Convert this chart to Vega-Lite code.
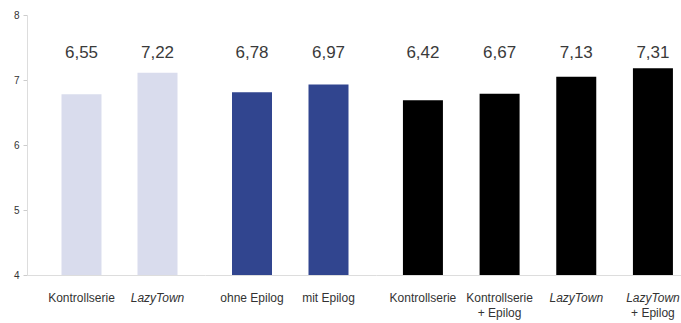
{
  "$schema": "https://vega.github.io/schema/vega-lite/v6.json",
  "padding": {"left": 13, "top": 10, "right": 0, "bottom": 3},
  "background": "white",
  "spacing": 0,
  "config": {
    "view": {"stroke": null},
    "concat": {"spacing": 0},
    "font": "Liberation Sans"
  },
  "data": {
    "values": [
      {"group": "A", "key": "A1", "value": 6.78, "label": "6,55", "line1": "Kontrollserie", "line2": ""},
      {"group": "A", "key": "A2", "value": 7.11, "label": "7,22", "line1": "LazyTown", "line2": ""},
      {"group": "B", "key": "B1", "value": 6.81, "label": "6,78", "line1": "ohne Epilog", "line2": ""},
      {"group": "B", "key": "B2", "value": 6.93, "label": "6,97", "line1": "mit Epilog", "line2": ""},
      {"group": "C", "key": "C1", "value": 6.69, "label": "6,42", "line1": "Kontrollserie", "line2": ""},
      {"group": "C", "key": "C2", "value": 6.79, "label": "6,67", "line1": "Kontrollserie", "line2": "+ Epilog"},
      {"group": "C", "key": "C3", "value": 7.05, "label": "7,13", "line1": "LazyTown", "line2": ""},
      {"group": "C", "key": "C4", "value": 7.18, "label": "7,31", "line1": "LazyTown", "line2": "+ Epilog"}
    ]
  },
  "hconcat": [
    {
      "width": 178, "height": 260,
      "transform": [{"filter": "datum.group === 'A'"}],
      "encoding": {
        "x": {"field": "key", "type": "nominal", "sort": null,
              "scale": {"paddingInner": 0.5, "paddingOuter": 0.421, "align": 0.5547, "round": false},
              "axis": {"labels": false, "ticks": false, "title": null, "domainColor": "#dddddd", "domainWidth": 1}}
      },
      "layer": [
        {"mark": {"type": "bar", "width": 40, "color": "#d9dced"},
         "encoding": {
           "y": {"field": "value", "type": "quantitative", "scale": {"domain": [4, 8], "zero": false, "nice": false},
                 "axis": {"title": null, "values": [4, 5, 6, 7, 8], "format": "d", "grid": false, "domainColor": "#dddddd",
                          "tickColor": "#cccccc", "tickSize": 4, "labelPadding": 4, "labelFontSize": 10, "labelColor": "#333333"}},
           "y2": {"datum": 4}
         }},
        {"mark": {"type": "text", "fontSize": 17, "color": "#3a3a3a", "baseline": "middle"},
         "encoding": {"y": {"datum": 7.41, "type": "quantitative"}, "text": {"field": "label"}}},
        {"transform": [{"filter": "datum.line1 !== 'LazyTown'"}],
         "mark": {"type": "text", "fontSize": 12, "color": "#333333", "baseline": "middle", "dy": 23},
         "encoding": {"y": {"datum": 4, "type": "quantitative"}, "text": {"field": "line1"}}},
        {"transform": [{"filter": "datum.line1 === 'LazyTown'"}],
         "mark": {"type": "text", "fontSize": 12, "fontStyle": "italic", "color": "#333333", "baseline": "middle", "dy": 23},
         "encoding": {"y": {"datum": 4, "type": "quantitative"}, "text": {"field": "line1"}}}
      ]
    },
    {
      "width": 171, "height": 260,
      "transform": [{"filter": "datum.group === 'B'"}],
      "encoding": {
        "x": {"field": "key", "type": "nominal", "sort": null,
              "scale": {"paddingInner": 0.5, "paddingOuter": 0.3676, "align": 0.4956, "round": false},
              "axis": {"labels": false, "ticks": false, "title": null, "domainColor": "#dddddd", "domainWidth": 1}}
      },
      "layer": [
        {"mark": {"type": "bar", "width": 40, "color": "#31458f"},
         "encoding": {
           "y": {"field": "value", "type": "quantitative", "scale": {"domain": [4, 8], "zero": false, "nice": false}, "axis": null},
           "y2": {"datum": 4}
         }},
        {"mark": {"type": "text", "fontSize": 17, "color": "#3a3a3a", "baseline": "middle"},
         "encoding": {"y": {"datum": 7.41, "type": "quantitative"}, "text": {"field": "label"}}},
        {"mark": {"type": "text", "fontSize": 12, "color": "#333333", "baseline": "middle", "dy": 23},
         "encoding": {"y": {"datum": 4, "type": "quantitative"}, "text": {"field": "line1"}}}
      ]
    },
    {
      "width": 306, "height": 260,
      "transform": [{"filter": "datum.group === 'C'"}],
      "encoding": {
        "x": {"field": "key", "type": "nominal", "sort": null,
              "scale": {"paddingInner": 0.5, "paddingOuter": 0.2457, "align": 0.737, "round": false},
              "axis": {"labels": false, "ticks": false, "title": null, "domainColor": "#dddddd", "domainWidth": 1}}
      },
      "layer": [
        {"mark": {"type": "bar", "width": 40, "color": "#000000"},
         "encoding": {
           "y": {"field": "value", "type": "quantitative", "scale": {"domain": [4, 8], "zero": false, "nice": false}, "axis": null},
           "y2": {"datum": 4}
         }},
        {"mark": {"type": "text", "fontSize": 17, "color": "#3a3a3a", "baseline": "middle"},
         "encoding": {"y": {"datum": 7.41, "type": "quantitative"}, "text": {"field": "label"}}},
        {"transform": [{"filter": "datum.line1 !== 'LazyTown'"}],
         "mark": {"type": "text", "fontSize": 12, "color": "#333333", "baseline": "middle", "dy": 23},
         "encoding": {"y": {"datum": 4, "type": "quantitative"}, "text": {"field": "line1"}}},
        {"transform": [{"filter": "datum.line1 === 'LazyTown'"}],
         "mark": {"type": "text", "fontSize": 12, "fontStyle": "italic", "color": "#333333", "baseline": "middle", "dy": 23},
         "encoding": {"y": {"datum": 4, "type": "quantitative"}, "text": {"field": "line1"}}},
        {"mark": {"type": "text", "fontSize": 12, "color": "#333333", "baseline": "middle", "dy": 38},
         "encoding": {"y": {"datum": 4, "type": "quantitative"}, "text": {"field": "line2"}}}
      ]
    }
  ]
}
